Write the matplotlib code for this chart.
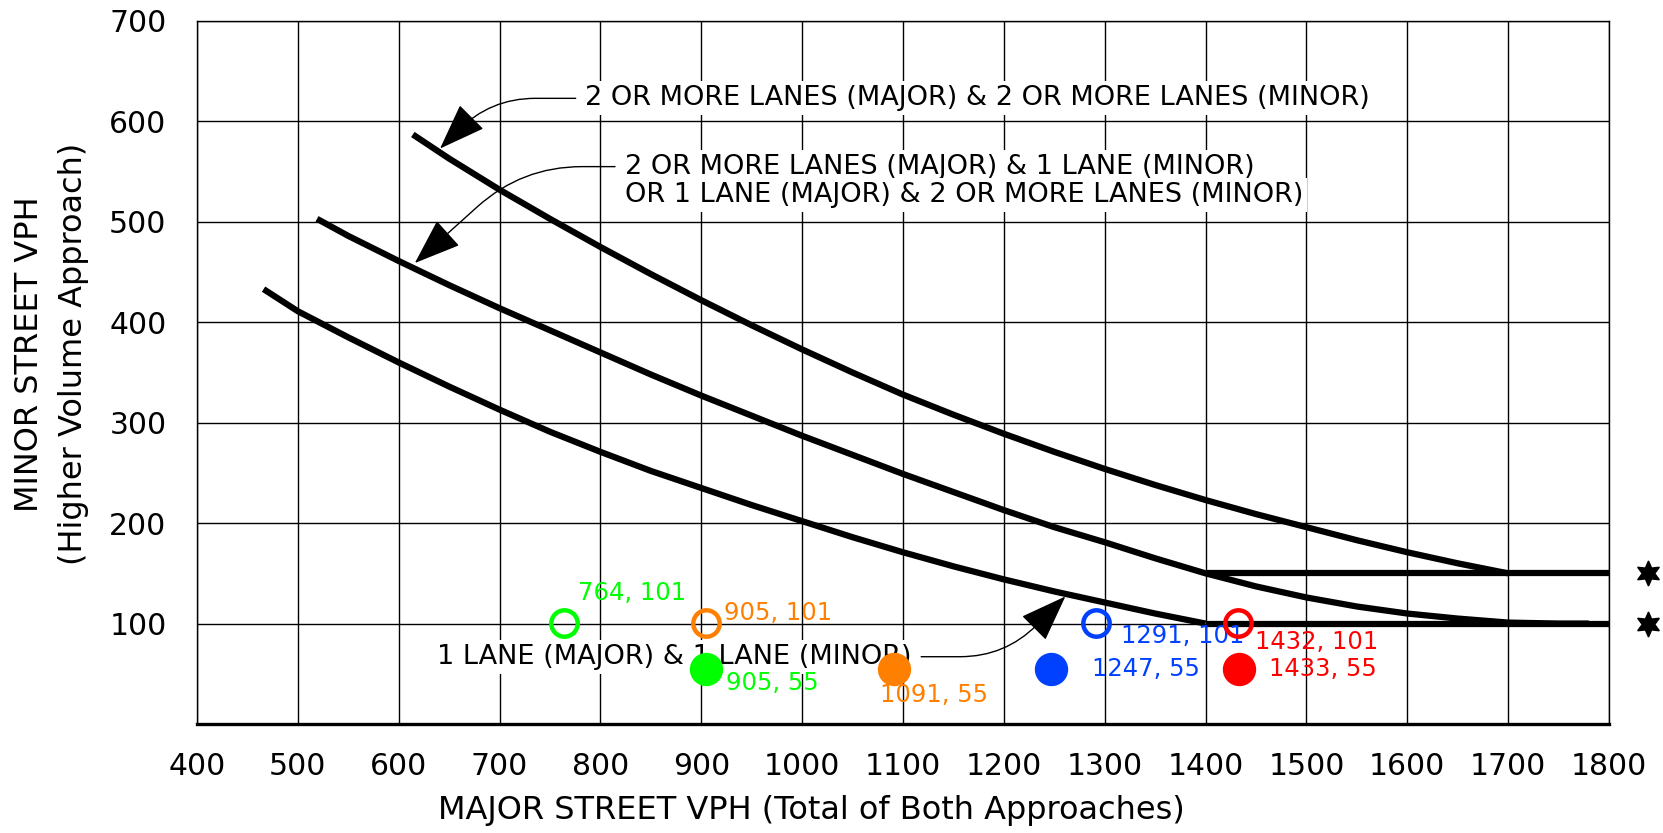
import matplotlib
matplotlib.use("Agg")
import matplotlib.pyplot as plt

# axis ticks
major_ticks = list(range(400, 1900, 100))
minor_ticks = list(range(100, 800, 100))

# warrant curves
two_two_x = [614, 650, 700, 750, 800, 850, 900, 950, 1000, 1050, 1100, 1150, 1200,
             1250, 1300, 1350, 1400, 1450, 1500, 1550, 1600, 1650, 1700]
two_two_y = [587, 563, 532, 503, 475, 448, 422, 397, 373, 350, 328, 308, 289,
             271, 254, 238, 223, 209, 196, 183, 171, 160, 150]

two_one_x = [519, 550, 600, 650, 700, 750, 800, 850, 900, 950, 1000, 1050, 1100, 1150,
             1200, 1250, 1300, 1350, 1400, 1450, 1500, 1550, 1600, 1650, 1700, 1750, 1780]
two_one_y = [503, 486, 461, 437, 414, 392, 370, 348, 327, 307, 287, 268, 249, 231,
             213, 196, 181, 165, 150, 137, 126, 117, 110, 105, 101, 100, 100]

one_one_x = [466, 500, 550, 600, 650, 700, 750, 800, 850, 900, 950, 1000, 1050, 1100,
             1150, 1200, 1250, 1300, 1350, 1400]
one_one_y = [433, 411, 385, 360, 336, 313, 291, 271, 252, 235, 218, 202, 186, 171,
             157, 144, 132, 121, 110, 100]

floor_x = [1400, 1800]
floor_150 = [150, 150]
floor_100 = [100, 100]

# counted intersections
pt_x = [764, 905, 1291, 1432, 905, 1091, 1247, 1433]
pt_y = [101, 101, 101, 101, 55, 55, 55, 55]
pt_colors = ["#00ff00", "#ff8000", "#0040ff", "#ff0000",
             "#00ff00", "#ff8000", "#0040ff", "#ff0000"]
pt_filled = [False, False, False, False, True, True, True, True]
# label offsets in points (left edge, vertical centre)
pt_offsets = [(10, 21), (13, 7), (18, -10), (12, -14),
              (14, -10), (-10, -19), (29, 0), (22, 0)]

fig = plt.figure(figsize=(16.63, 8.33), dpi=100)
ax = fig.add_axes([197 / 1663, 1 - 724 / 833, 1412 / 1663, 703 / 833])

ax.set_xlim(400, 1800)
ax.set_ylim(0, 700)
ax.set_xticks(major_ticks)
ax.set_yticks(minor_ticks)
ax.grid(True, color="black", linewidth=1.0)
ax.set_axisbelow(True)
ax.tick_params(length=0, labelsize=21.5)
ax.tick_params(axis="x", pad=20)
ax.tick_params(axis="y", pad=22)
for s in ax.spines.values():
    s.set_linewidth(1.0)
ax.spines["bottom"].set_linewidth(2.4)

lw = 4.5
ax.plot(two_two_x, two_two_y, color="black", lw=lw, zorder=4, solid_capstyle="butt")
ax.plot(two_one_x, two_one_y, color="black", lw=lw, zorder=4, solid_capstyle="butt")
ax.plot(one_one_x, one_one_y, color="black", lw=lw, zorder=4, solid_capstyle="butt")
ax.plot(floor_x, floor_150, color="black", lw=lw, zorder=4, solid_capstyle="butt")
ax.plot(floor_x, floor_100, color="black", lw=lw, zorder=4, solid_capstyle="butt")

# asterisks for the lower thresholds
ax.plot([1839, 1839], [150, 100], linestyle="none", marker=(6, 1, 0),
        markersize=18, color="black", clip_on=False)

box = dict(boxstyle="square,pad=0.15", fc="white", ec="none")
arrow = dict(arrowstyle="-|>,head_length=1.5,head_width=0.55", color="black",
             lw=1.0, mutation_scale=20, shrinkA=4, shrinkB=0)

ax.annotate("2 OR MORE LANES (MAJOR) & 2 OR MORE LANES (MINOR)",
            xy=(641, 573), xytext=(785, 623), fontsize=19.5, ha="left", va="center",
            bbox=box, zorder=3,
            arrowprops=dict(arrow, relpos=(0, 0.5),
                            connectionstyle="angle,angleA=0,angleB=45,rad=45"))
ax.annotate("2 OR MORE LANES (MAJOR) & 1 LANE (MINOR)",
            xy=(616, 459), xytext=(824, 555), fontsize=19.5, ha="left", va="center",
            bbox=box, zorder=3,
            arrowprops=dict(arrow, relpos=(0, 0.5),
                            connectionstyle="angle,angleA=0,angleB=42,rad=60"))
ax.text(824, 527, "OR 1 LANE (MAJOR) & 2 OR MORE LANES (MINOR)", fontsize=19.5,
        ha="left", va="center", bbox=box, zorder=3)
ax.annotate("1 LANE (MAJOR) & 1 LANE (MINOR)",
            xy=(1261, 127), xytext=(638, 67), fontsize=19.5, ha="left", va="center",
            bbox=box, zorder=3,
            arrowprops=dict(arrow, relpos=(1, 0.5),
                            connectionstyle="angle,angleA=0,angleB=45,rad=45"))

for x, y, c, filled, off in zip(pt_x, pt_y, pt_colors, pt_filled, pt_offsets):
    if filled:
        ax.plot(x, y, marker="o", markersize=23, color=c, linestyle="none", zorder=5)
    else:
        ax.plot(x, y, marker="o", markersize=19, markerfacecolor="none",
                markeredgecolor=c, markeredgewidth=3.2, linestyle="none", zorder=5)
    ax.annotate(f"{x}, {y}", xy=(x, y), xytext=off, textcoords="offset points",
                color=c, fontsize=17.5, ha="left", va="center", zorder=5)

fig.text(30 / 1663, 1 - 354 / 833, "MINOR STREET VPH", rotation=90,
         fontsize=23, ha="center", va="center")
fig.text(74 / 1663, 1 - 354 / 833, "(Higher Volume Approach)", rotation=90,
         fontsize=23, ha="center", va="center")
fig.text(811 / 1663, 1 - 811 / 833, "MAJOR STREET VPH (Total of Both Approaches)",
         fontsize=23, ha="center", va="center")

fig.savefig("out.png", dpi=100)
